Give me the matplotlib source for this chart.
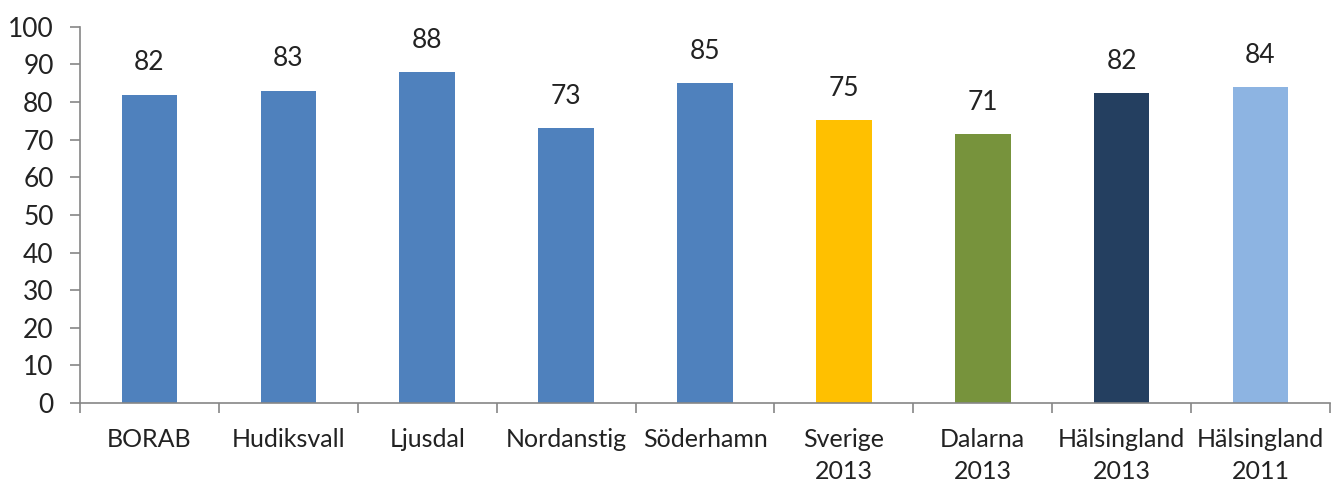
import matplotlib
matplotlib.use("Agg")
import matplotlib.pyplot as plt
import numpy as np

# data
categories = ["BORAB", "Hudiksvall", "Ljusdal", "Nordanstig", "Söderhamn",
              "Sverige\n2013", "Dalarna\n2013", "Hälsingland\n2013", "Hälsingland\n2011"]
values = [82, 83, 88, 73, 85, 75.2, 71.5, 82.3, 84]
labels = ["82", "83", "88", "73", "85", "75", "71", "82", "84"]
colors = ["#4F81BD"] * 5 + ["#FFC000", "#77933C", "#243F60", "#8DB4E2"]

plt.rcParams['font.family'] = ['Lato', 'DejaVu Sans']

fig = plt.figure(figsize=(13.34, 4.88), dpi=100)
ax = fig.add_axes([0.06, 0.174, 0.937, 0.771])

x = np.arange(len(categories))
bars = ax.bar(x, values, width=0.4, color=colors)

for xi, v, lab in zip(x, values, labels):
    ax.annotate(lab, (xi, v), xytext=(0, 23), textcoords="offset points",
                ha="center", va="center", fontsize=19, color="#222222")

ax.set_xlim(-0.5, len(categories) - 0.5)
ax.set_ylim(0, 100)
ax.set_yticks(np.arange(0, 101, 10))
ax.tick_params(axis="y", labelsize=19, length=7, color="#868686", width=1.2,
               labelcolor="#222222", pad=12)

# category ticks between bars
ax.set_xticks(np.arange(-0.5, len(categories), 1.0))
ax.set_xticklabels([])
ax.set_xticks(x, minor=True)
ax.set_xticklabels(categories, minor=True, fontsize=18, color="#222222",
                   linespacing=1.45)
ax.tick_params(axis="x", which="major", length=7, color="#868686", width=1.2)
ax.tick_params(axis="x", which="minor", length=0, pad=18)

for side in ["top", "right"]:
    ax.spines[side].set_visible(False)
for side in ["left", "bottom"]:
    ax.spines[side].set_color("#868686")
    ax.spines[side].set_linewidth(1.2)

fig.savefig("out.png", dpi=100)
